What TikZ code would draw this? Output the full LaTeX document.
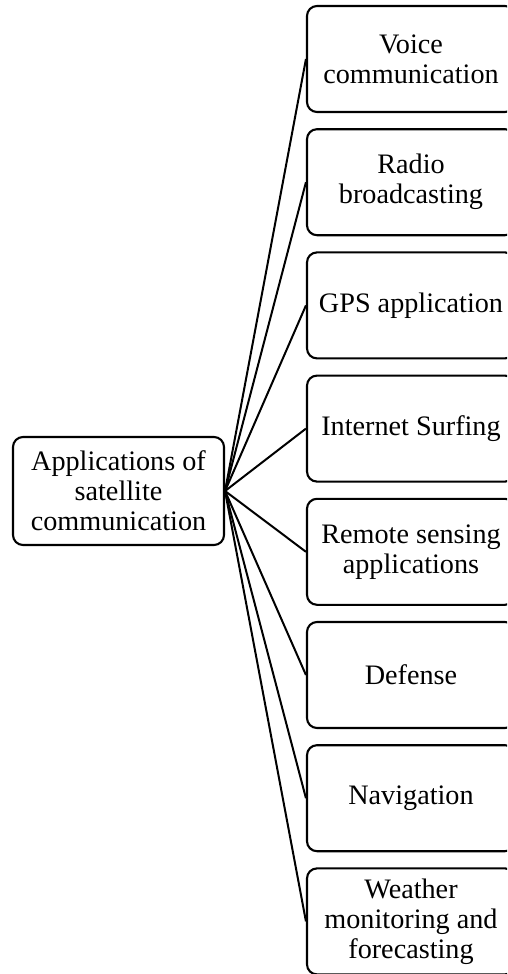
\documentclass[tikz,border=0pt]{standalone}
\usepackage{fontspec}
\setmainfont{Liberation Serif}
\begin{document}
\begin{tikzpicture}[x=1pt,y=-1pt,
  box/.style={draw=black, line width=2.1pt, rounded corners=10pt, fill=white,
    inner sep=0pt, align=center, font=\fontsize{28.2}{30}\selectfont},
  hub/.style={box, minimum width=211pt, minimum height=108pt},
  leaf/.style={box, minimum width=208pt, minimum height=106pt},
  link/.style={draw=black, line width=2pt}]
  \useasboundingbox (0,0) rectangle (507,974);
  \clip (0,0) rectangle (507,974);

  % central topic
  \node[hub] (hub) at (118.5,491) {Applications of\\satellite\\communication};

  % application boxes, stacked down the right side
  \node[leaf] (a1) at (411,59)    {Voice\\communication};
  \node[leaf] (a2) at (411,182.2) {Radio\\broadcasting};
  \node[leaf] (a3) at (411,305.4) {GPS application};
  \node[leaf] (a4) at (411,428.6) {Internet Surfing};
  \node[leaf] (a5) at (411,551.8) {Remote sensing\\applications};
  \node[leaf] (a6) at (411,675)   {Defense};
  \node[leaf] (a7) at (411,798.2) {Navigation};
  \node[leaf] (a8) at (411,921.4) {Weather\\monitoring and\\forecasting};

  % connectors from the hub to every box
  \foreach \n in {a1,a2,a3,a4,a5,a6,a7,a8}
    \draw[link] (hub.east) -- (\n.west);
\end{tikzpicture}
\end{document}
